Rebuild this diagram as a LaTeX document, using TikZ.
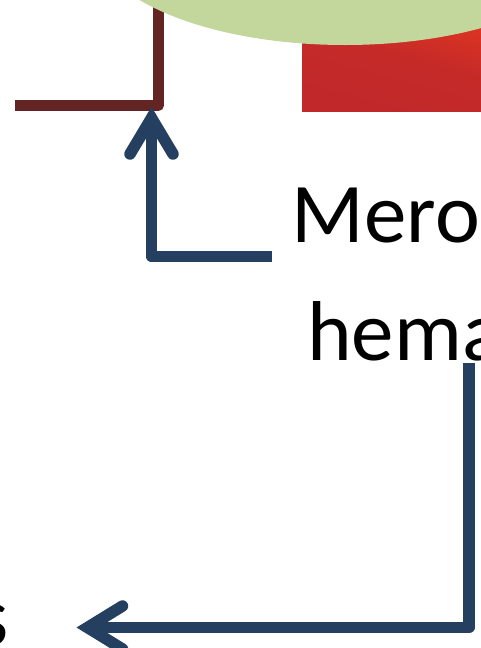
\documentclass[tikz,border=0pt]{standalone}
\usepackage{fontspec}
\setmainfont{Carlito}
\usetikzlibrary{calc}

\definecolor{flowblue}{HTML}{243F60}
\definecolor{wine}{HTML}{632423}
\definecolor{leaf}{HTML}{C3D69B}
\definecolor{redTop}{HTML}{E6381F}
\definecolor{redBottom}{HTML}{C0282A}

\tikzset{
  flowline/.style={draw=flowblue, line width=11.5pt, line join=round, line cap=butt},
  flowhead/.style={draw=flowblue, line width=11.5pt, line join=miter, line cap=round},
  wineline/.style={draw=wine, line width=11pt, line join=round, line cap=butt},
  bigtext/.style={inner sep=0pt, font=\fontsize{85}{100}\selectfont, text=black}
}

\begin{document}
\begin{tikzpicture}[x=1pt, y=-1pt]
  \useasboundingbox (0,0) rectangle (481,648);

  % red block behind the green cap
  \shade[top color=redTop, bottom color=redBottom, middle color=redBottom!85!redTop, shading angle=-15]
    (302,-5) rectangle (490,111);

  % wine-coloured bracket
  \coordinate (wineEnd) at (15,105.5);
  \coordinate (wineTop) at (158.5,-20);
  \draw[wineline] (wineEnd) -| (wineTop);

  % green cap
  \fill[leaf] (345,-62) ellipse [x radius=252, y radius=107];

  % labels
  \node[bigtext, anchor=base west] (mero) at (291.5,242) {Mero};
  \node[bigtext, anchor=base west] (hema) at (307,360) {hema};
  \node[bigtext, anchor=base west] (tail) at (-25,645) {s};

  % upward arrow into the bracket corner
  \coordinate (upStart) at (272,256.5);
  \coordinate (upTip) at (151.5,118);
  \draw[flowline] (upStart) -| (upTip);
  \draw[flowhead] ($(upTip)+(-21.5,36)$) -- (upTip) -- ($(upTip)+(21.5,36)$);

  % arrow down from the label and back to the left
  \coordinate (downStart) at (469,363);
  \coordinate (leftTip) at (87.5,627.5);
  \draw[flowline] (downStart) |- (leftTip);
  \draw[flowhead] ($(leftTip)+(35,-21.5)$) -- (leftTip) -- ($(leftTip)+(35,21.5)$);
\end{tikzpicture}
\end{document}
